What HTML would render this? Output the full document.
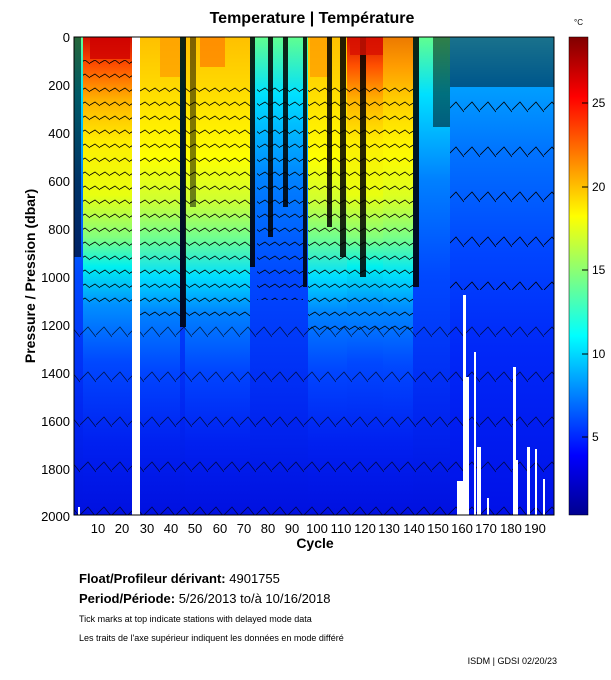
<!DOCTYPE html>
<html><head><meta charset="utf-8"><style>
body{margin:0;background:#fff;width:611px;height:675px;overflow:hidden;font-family:"Liberation Sans",sans-serif}
</style></head><body>
<svg width="611" height="675" xmlns="http://www.w3.org/2000/svg" font-family="Liberation Sans, sans-serif">
<defs>
<linearGradient id="warm" x1="0" y1="0" x2="0" y2="1">
<stop offset="0" stop-color="#d01000"/><stop offset="0.06" stop-color="#ff5000"/><stop offset="0.13" stop-color="#ffb000"/>
<stop offset="0.22" stop-color="#ffee00"/><stop offset="0.33" stop-color="#e8ff10"/><stop offset="0.42" stop-color="#80ff80"/>
<stop offset="0.48" stop-color="#00f0f0"/><stop offset="0.56" stop-color="#0090ff"/><stop offset="0.68" stop-color="#0048ff"/>
<stop offset="0.85" stop-color="#0020f0"/><stop offset="1" stop-color="#0010e0"/></linearGradient>
<linearGradient id="yel" x1="0" y1="0" x2="0" y2="1">
<stop offset="0" stop-color="#ffc000"/><stop offset="0.1" stop-color="#ffd800"/><stop offset="0.25" stop-color="#ffff00"/>
<stop offset="0.34" stop-color="#d0ff30"/><stop offset="0.42" stop-color="#70ff90"/><stop offset="0.5" stop-color="#00e0ff"/>
<stop offset="0.58" stop-color="#0080ff"/><stop offset="0.7" stop-color="#0045ff"/><stop offset="0.85" stop-color="#0020f0"/><stop offset="1" stop-color="#0010e0"/></linearGradient>
<linearGradient id="mid" x1="0" y1="0" x2="0" y2="1">
<stop offset="0" stop-color="#60ff90"/><stop offset="0.12" stop-color="#00e0ff"/><stop offset="0.3" stop-color="#0080ff"/>
<stop offset="0.5" stop-color="#0048ff"/><stop offset="0.8" stop-color="#0025f0"/><stop offset="1" stop-color="#0010e0"/></linearGradient>
<linearGradient id="cool" x1="0" y1="0" x2="0" y2="1">
<stop offset="0" stop-color="#30d0ff"/><stop offset="0.1" stop-color="#00a0ff"/><stop offset="0.25" stop-color="#0070ff"/>
<stop offset="0.45" stop-color="#0045ff"/><stop offset="0.65" stop-color="#0028f8"/><stop offset="1" stop-color="#0010e8"/></linearGradient>
<linearGradient id="cb" x1="0" y1="0" x2="0" y2="1">
<stop offset="0" stop-color="#800000"/><stop offset="0.125" stop-color="#ff0000"/><stop offset="0.375" stop-color="#ffff00"/>
<stop offset="0.625" stop-color="#00ffff"/><stop offset="0.875" stop-color="#0000ff"/><stop offset="1" stop-color="#00008f"/></linearGradient>
<pattern id="lines" width="10" height="14" patternUnits="userSpaceOnUse"><path d="M0 7 L5 4 L10 8" stroke="#000" stroke-width="0.8" fill="none"/></pattern>
<pattern id="lines2" width="16" height="45" patternUnits="userSpaceOnUse"><path d="M0 20 L8 12 L16 22" stroke="#000" stroke-width="0.8" fill="none"/></pattern>
</defs>
<text x="312" y="23" font-size="16" font-weight="bold" text-anchor="middle">Temperature | Température</text>
<g>
<rect x="74" y="37" width="480" height="478" fill="url(#mid)"/>
<rect x="83" y="37" width="49" height="478" fill="url(#warm)"/>
<rect x="140" y="37" width="40" height="478" fill="url(#yel)"/>
<rect x="185" y="37" width="65" height="478" fill="url(#yel)"/>
<rect x="160" y="37" width="20" height="40" fill="#ff9a00" opacity="0.7"/>
<rect x="200" y="37" width="25" height="30" fill="#ff7a00" opacity="0.7"/>
<rect x="308" y="37" width="39" height="478" fill="url(#yel)"/>
<rect x="310" y="37" width="20" height="40" fill="#ff9a00" opacity="0.7"/>
<rect x="347" y="37" width="66" height="478" fill="url(#warm)"/>
<rect x="383" y="37" width="30" height="478" fill="url(#yel)" opacity="0.6"/>
<rect x="450" y="37" width="104" height="478" fill="url(#cool)"/>
<rect x="83" y="60" width="49" height="250" fill="url(#lines)"/>
<rect x="140" y="80" width="40" height="240" fill="url(#lines)"/>
<rect x="185" y="80" width="65" height="240" fill="url(#lines)"/>
<rect x="257" y="80" width="46" height="220" fill="url(#lines)"/>
<rect x="308" y="80" width="105" height="250" fill="url(#lines)"/>
<rect x="74" y="320" width="480" height="195" fill="url(#lines2)" opacity="0.7"/>
<rect x="450" y="90" width="104" height="200" fill="url(#lines2)"/>
<g fill="#000">
<rect x="74" y="37" width="7" height="220" opacity="0.6"/>
<rect x="180" y="37" width="6" height="290" opacity="0.85"/>
<rect x="190" y="37" width="6" height="170" opacity="0.5"/>
<rect x="250" y="37" width="5" height="230" opacity="0.85"/>
<rect x="268" y="37" width="5" height="200" opacity="0.85"/>
<rect x="283" y="37" width="5" height="170" opacity="0.85"/>
<rect x="303" y="37" width="4" height="250" opacity="0.85"/>
<rect x="327" y="37" width="5" height="190" opacity="0.85"/>
<rect x="340" y="37" width="6" height="220" opacity="0.85"/>
<rect x="360" y="37" width="6" height="240" opacity="0.85"/>
<rect x="413" y="37" width="6" height="250" opacity="0.85"/>
<rect x="433" y="37" width="17" height="90" opacity="0.5"/>
<rect x="450" y="37" width="104" height="50" opacity="0.45"/>
</g>
<rect x="90" y="37" width="40" height="22" fill="#d00000" opacity="0.8"/>
<rect x="350" y="37" width="33" height="18" fill="#d81000" opacity="0.8"/>
<g fill="#fff">
<rect x="132" y="37" width="8" height="478"/>
<rect x="78" y="507" width="2" height="8"/>
<rect x="457" y="481" width="8" height="34"/>
<rect x="463" y="295" width="3" height="220"/>
<rect x="466" y="377" width="3" height="138"/>
<rect x="474" y="352" width="2" height="163"/>
<rect x="477" y="447" width="4" height="68"/>
<rect x="487" y="498" width="2" height="17"/>
<rect x="513" y="367" width="3" height="148"/>
<rect x="513" y="460" width="5" height="55"/>
<rect x="527" y="447" width="3" height="68"/>
<rect x="535" y="449" width="2" height="66"/>
<rect x="543" y="479" width="2" height="36"/>
</g>
<rect x="74" y="37" width="480" height="478" fill="none" stroke="#000" stroke-width="1"/>
</g>
<g font-size="13" text-anchor="end">
<text x="70" y="42">0</text><text x="70" y="90">200</text><text x="70" y="138">400</text><text x="70" y="186">600</text>
<text x="70" y="234">800</text><text x="70" y="282">1000</text><text x="70" y="330">1200</text><text x="70" y="378">1400</text>
<text x="70" y="426">1600</text><text x="70" y="474">1800</text><text x="70" y="521">2000</text>
</g>
<text transform="translate(35,276) rotate(-90)" font-size="14" font-weight="bold" text-anchor="middle">Pressure / Pression (dbar)</text>
<g font-size="13" text-anchor="middle">
<text x="98" y="533">10</text><text x="122" y="533">20</text><text x="147" y="533">30</text><text x="171" y="533">40</text>
<text x="195" y="533">50</text><text x="220" y="533">60</text><text x="244" y="533">70</text><text x="268" y="533">80</text>
<text x="292" y="533">90</text><text x="317" y="533">100</text><text x="341" y="533">110</text><text x="365" y="533">120</text>
<text x="389" y="533">130</text><text x="414" y="533">140</text><text x="438" y="533">150</text><text x="462" y="533">160</text>
<text x="486" y="533">170</text><text x="511" y="533">180</text><text x="535" y="533">190</text>
</g>
<text x="315" y="548" font-size="14" font-weight="bold" text-anchor="middle">Cycle</text>
<rect x="569" y="37" width="19" height="478" fill="url(#cb)" stroke="#000" stroke-width="0.5"/>
<g stroke="#000"><line x1="582" y1="103" x2="588" y2="103"/><line x1="582" y1="187" x2="588" y2="187"/><line x1="582" y1="270" x2="588" y2="270"/><line x1="582" y1="354" x2="588" y2="354"/><line x1="582" y1="437" x2="588" y2="437"/></g>
<g font-size="12"><text x="592" y="107">25</text><text x="592" y="191">20</text><text x="592" y="274">15</text><text x="592" y="358">10</text><text x="592" y="441">5</text></g>
<text x="574" y="25" font-size="8">°C</text>
<text x="79" y="583" font-size="13"><tspan font-weight="bold">Float/Profileur dérivant:</tspan> 4901755</text>
<text x="79" y="603" font-size="13"><tspan font-weight="bold">Period/Période:</tspan> 5/26/2013  to/à  10/16/2018</text>
<text x="79" y="622" font-size="9">Tick marks at top indicate stations with delayed mode data</text>
<text x="79" y="641" font-size="9">Les traits de l'axe supérieur indiquent les données en mode différé</text>
<text x="557" y="664" font-size="9" text-anchor="end">ISDM | GDSI  02/20/23</text>
</svg>
</body></html>
